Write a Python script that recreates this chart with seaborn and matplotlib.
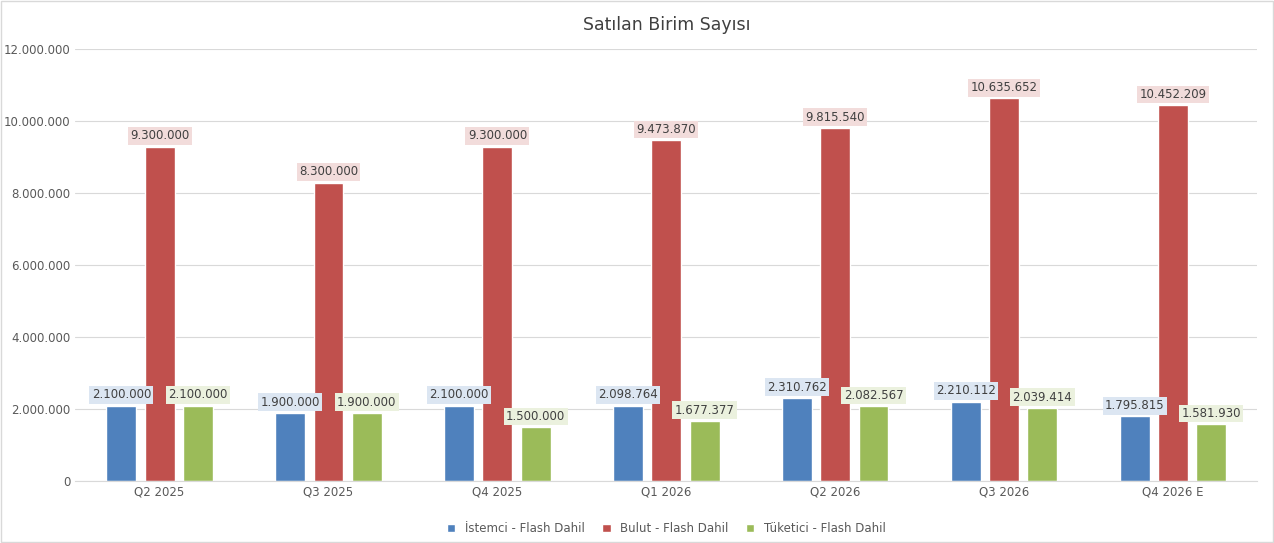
import matplotlib
matplotlib.use("Agg")
import matplotlib.pyplot as plt
import seaborn as sns
import pandas as pd
from matplotlib.ticker import FuncFormatter

quarters = ["Q2 2025", "Q3 2025", "Q4 2025", "Q1 2026", "Q2 2026", "Q3 2026", "Q4 2026 E"]
istemci = [2100000, 1900000, 2100000, 2098764, 2310762, 2210112, 1795815]
bulut = [9300000, 8300000, 9300000, 9473870, 9815540, 10635652, 10452209]
tuketici = [2100000, 1900000, 1500000, 1677377, 2082567, 2039414, 1581930]
series = ["İstemci - Flash Dahil", "Bulut - Flash Dahil", "Tüketici - Flash Dahil"]
colors = ["#4F81BD", "#C0504D", "#9BBB59"]
box_colors = ["#DCE6F2", "#F2DCDB", "#EBF1DE"]

rows = []
for name, vals in zip(series, [istemci, bulut, tuketici]):
    for q, v in zip(quarters, vals):
        rows.append({"quarter": q, "series": name, "value": v})
df = pd.DataFrame(rows)

def fmt(v):
    return f"{int(v):,}".replace(",", ".")

sns.set_style("white")
fig = plt.figure(figsize=(12.74, 5.43), dpi=100)
ax = fig.add_axes([0.059, 0.114, 0.928, 0.795])
sns.barplot(data=df, x="quarter", y="value", hue="series", palette=colors,
            width=0.68, gap=0.22, ax=ax, saturation=1)

for cont, bc in zip(ax.containers, box_colors):
    ax.bar_label(cont, labels=[fmt(b.get_height()) for b in cont], padding=3,
                 fontsize=8.5, color="#404040",
                 bbox=dict(boxstyle="square,pad=0.2", fc=bc, ec="none"))

ax.set_ylim(0, 12000000)
ax.set_yticks(range(0, 12000001, 2000000))
ax.yaxis.set_major_formatter(FuncFormatter(lambda v, p: fmt(v)))
ax.grid(axis="y", color="#D9D9D9", linewidth=0.8)
ax.set_axisbelow(True)
for s in ["top", "right", "left"]:
    ax.spines[s].set_visible(False)
ax.spines["bottom"].set_color("#D9D9D9")
ax.tick_params(axis="both", labelsize=8.5, colors="#595959", length=0)
ax.set_xlabel("")
ax.set_ylabel("")
ax.set_title("Satılan Birim Sayısı", fontsize=12.5, color="#404040", pad=14)
ax.legend(loc="upper center", bbox_to_anchor=(0.5, -0.07), ncol=3, frameon=False,
          fontsize=8.5, handlelength=0.7, handleheight=0.7, columnspacing=1.5,
          labelcolor="#595959")
fig.patches.append(plt.Rectangle((0.001, 0.002), 0.998, 0.996, transform=fig.transFigure,
                                 fill=False, ec="#D9D9D9", lw=1))
fig.savefig("out.png", dpi=100)
